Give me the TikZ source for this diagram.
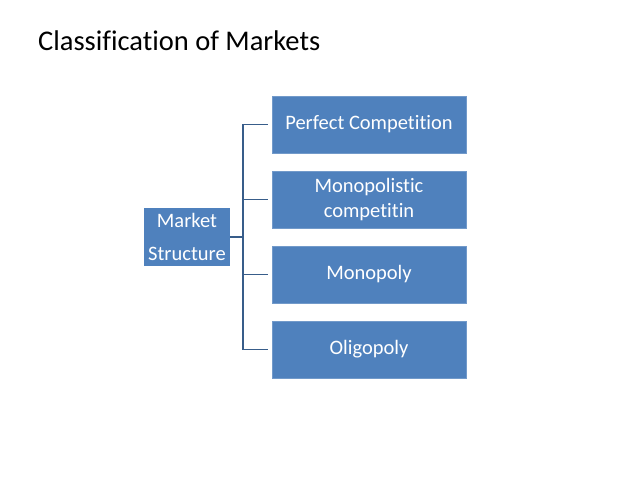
\documentclass[tikz,border=0pt]{standalone}
\usepackage{fontspec}
\setmainfont{Carlito}[Ligatures=CommonOff]
\usetikzlibrary{positioning}

\definecolor{boxblue}{HTML}{4F81BD}
\definecolor{lineblue}{HTML}{385D8A}

\begin{document}
\begin{tikzpicture}[
    x=1pt, y=-1pt,
    market/.style={
        fill=boxblue, draw=boxblue!80!white, text=white,
        minimum width=194pt, minimum height=57pt, align=center,
        font=\fontsize{20.5}{25}\selectfont, inner sep=0pt
    },
    root/.style={
        fill=boxblue, text=white, minimum width=86pt, minimum height=58pt,
        align=center, font=\fontsize{20.5}{33}\selectfont, inner sep=0pt
    },
    branch/.style={draw=lineblue, line width=1.8pt}
]

% Canvas
\useasboundingbox (0,0) rectangle (638,479);

% Title
\node[anchor=base west, inner sep=0pt, font=\fontsize{28.5}{32}\selectfont] (title) at (38,50) {Classification of Markets};

% -------------------------
% Nodes
% -------------------------

% Root (Left)
\node[root] (MS) at (187,237) {Market\\Structure};

% Market types (Right column)
\node[market] (PC) at (369,124.5) {Perfect Competition};
\node[market] (MC) at (369,199.5) {Monopolistic\\competitin};
\node[market] (Mono) at (369,274.5) {Monopoly};
\node[market] (Oli) at (369,349.5) {Oligopoly};

% -------------------------
% Connections
% -------------------------
\coordinate (trunk) at (243,237);

\draw[branch] (MS.east) -- (trunk);
\draw[branch, shorten >=4pt] (trunk) |- (PC.west);
\draw[branch, shorten >=4pt] (trunk) |- (MC.west);
\draw[branch, shorten >=4pt] (trunk) |- (Mono.west);
\draw[branch, shorten >=4pt] (trunk) |- (Oli.west);

\end{tikzpicture}
\end{document}
